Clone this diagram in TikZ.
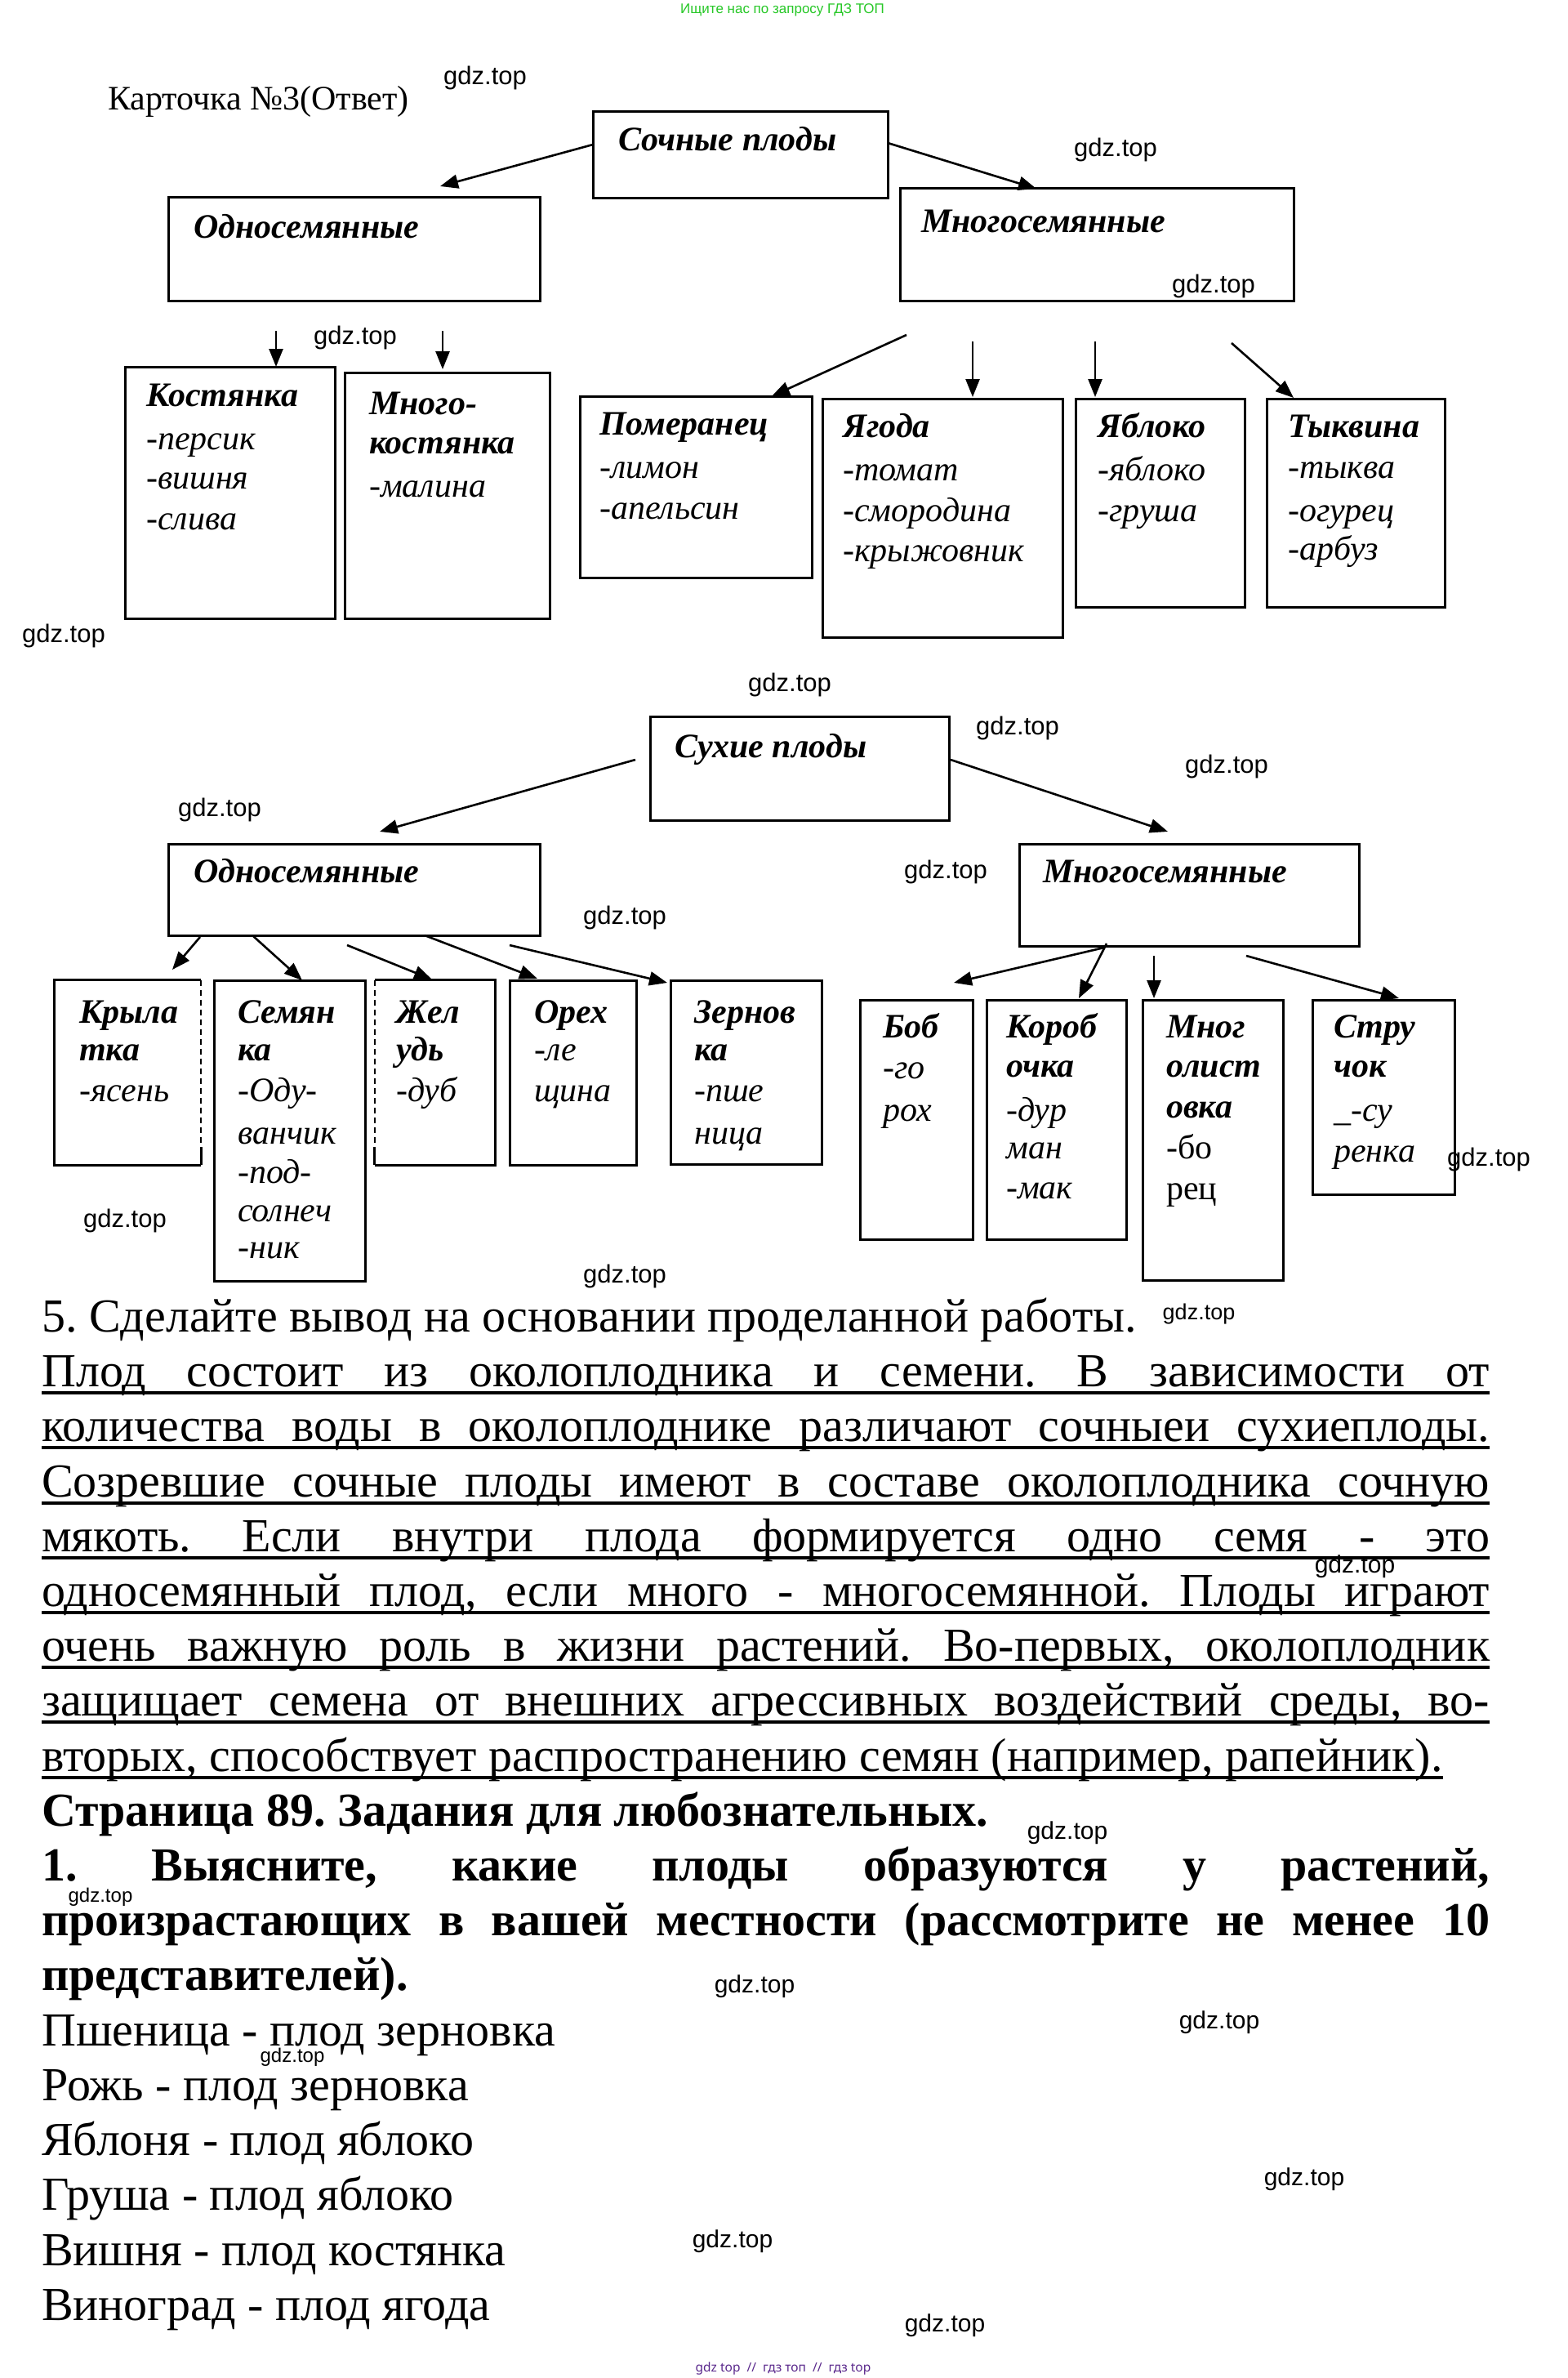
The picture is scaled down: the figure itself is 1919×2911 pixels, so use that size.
\documentclass[tikz,border=0pt]{standalone}
\usepackage{fontspec}
\setmainfont{Liberation Serif}
\newfontfamily\lsans{Liberation Sans}
\newfontfamily\nsans{Noto Sans}
\usetikzlibrary{arrows.meta,fit,calc}
\definecolor{grn}{RGB}{40,200,40}
\definecolor{purp}{RGB}{90,40,140}
\tikzset{
 bx/.style={draw, line width=3pt, inner sep=0pt},
 bxl/.style={line width=3pt},
 dsh/.style={line width=2.4pt, dash pattern=on 7pt off 5pt},
 arr/.style={line width=2.6pt, -{Triangle[length=22pt,width=17pt]}},
 hd/.style={anchor=base west, inner sep=0pt, font=\fontsize{42}{48}\selectfont\bfseries\itshape},
 it/.style={anchor=base west, inner sep=0pt, font=\fontsize{42}{48}\selectfont\itshape},
 up/.style={anchor=base west, inner sep=0pt, font=\fontsize{42}{48}\selectfont},
 tx/.style={anchor=base west, inner sep=0pt, font=\fontsize{58}{67}\selectfont\frenchspacing},
 txb/.style={anchor=base west, inner sep=0pt, font=\fontsize{58}{67}\selectfont\bfseries\frenchspacing},
 wm/.style={inner sep=0pt, text=black},
 ul/.style={line width=4pt},
}
\newcommand\jl[1]{\makebox[1773pt][s]{#1}}
\begin{document}
\frenchspacing
\begin{tikzpicture}[x=1pt,y=-1pt]
\useasboundingbox[fill=white] (0,0) rectangle (1919,2911);

% header / footer
\node[inner sep=0pt, text=grn, font=\lsans\fontsize{17}{20}\selectfont] (top) at (958,12) {Ищите нас по запросу ГДЗ ТОП};
\node[inner sep=0pt, text=purp, font=\nsans\fontsize{15.5}{18}\selectfont] (bot) at (959,2899) {gdz top\ \ //\ \ гдз топ\ \ //\ \ гдз top};

\node[anchor=base west, inner sep=0pt, font=\fontsize{42}{48}\selectfont] (title) at (132,135) {Карточка №3(Ответ)};

% ---------- top diagram boxes ----------
\node[bx, fit={(726,137) (1087,243)}] (sochnye) {};
\node[bx, fit={(206,242) (661,368)}] (odnoA) {};
\node[bx, fit={(1102,231) (1584,368)}] (mnogoA) {};
\node[bx, fit={(153,449) (410,757)}] (kost) {};
\node[bx, fit={(422,456) (673,757)}] (mkost) {};
\node[bx, fit={(710,485) (994,707)}] (pomer) {};
\node[bx, fit={(1007,488) (1301,780)}] (yagoda) {};
\node[bx, fit={(1317,488) (1524,743)}] (yabl) {};
\node[bx, fit={(1551,488) (1769,743)}] (tykv) {};

\node[hd] (t-soch) at (757,185) {Сочные плоды};
\node[hd] (t-odA) at (237,292) {Односемянные};
\node[hd] (t-mnA) at (1128,285) {Многосемянные};
\node[hd] (t-kost) at (179,497) {Костянка};
\node[it] (t-kost1) at (179,550) {-персик};
\node[it] (t-kost2) at (179,598) {-вишня};
\node[it] (t-kost3) at (179,648) {-слива};
\node[hd] (t-mk1) at (452,507) {Много-};
\node[hd] (t-mk2) at (452,555) {костянка};
\node[it] (t-mk3) at (452,608) {-малина};
\node[hd] (t-pom) at (734,532) {Померанец};
\node[it] (t-pom1) at (734,585) {-лимон};
\node[it] (t-pom2) at (734,635) {-апельсин};
\node[hd] (t-yag) at (1032,535) {Ягода};
\node[it] (t-yag1) at (1032,588) {-томат};
\node[it] (t-yag2) at (1032,638) {-смородина};
\node[it] (t-yag3) at (1032,687) {-крыжовник};
\node[hd] (t-yab) at (1344,535) {Яблоко};
\node[it] (t-yab1) at (1344,588) {-яблоко};
\node[it] (t-yab2) at (1344,638) {-груша};
\node[hd] (t-tyk) at (1577,535) {Тыквина};
\node[it] (t-tyk1) at (1577,585) {-тыква};
\node[it] (t-tyk2) at (1577,638) {-огурец};
\node[it] (t-tyk3) at (1577,685) {-арбуз};

% top arrows
\coordinate (a1s) at (726,177); \coordinate (a1e) at (539,228);
\coordinate (a2s) at (1087,175); \coordinate (a2e) at (1269,231);
\coordinate (a3s) at (338,405); \coordinate (a3e) at (338,449);
\coordinate (a4s) at (542,405); \coordinate (a4e) at (542,452);
\coordinate (a5s) at (1110,410); \coordinate (a5e) at (945,485);
\coordinate (a6s) at (1191,418); \coordinate (a6e) at (1191,486);
\coordinate (a7s) at (1341,418); \coordinate (a7e) at (1341,486);
\coordinate (a8s) at (1508,420); \coordinate (a8e) at (1584,487);
\foreach \k in {1,...,8} \draw[arr] (a\k s) -- (a\k e);

% ---------- second diagram boxes ----------
\node[bx, fit={(796,877) (1162,1004)}] (sukhie) {};
\node[bx, fit={(206,1033) (661,1145)}] (odnoB) {};
\node[bx, fit={(1248,1033) (1664,1158)}] (mnogoB) {};
\node[fit={(67,1200) (246,1426)}, inner sep=0pt] (kryl) {};
\draw[bxl] (kryl.north east) -- (kryl.north west) -- (kryl.south west) -- (kryl.south east);
\draw[dsh] (kryl.north east) -- ($(kryl.south east)+(0,-22)$);
\draw[bxl] ($(kryl.south east)+(0,-22)$) -- (kryl.south east);
\node[bx, fit={(262,1200) (447,1568)}] (semyan) {};
\node[fit={(459,1200) (606,1426)}, inner sep=0pt] (zhel) {};
\draw[bxl] (zhel.north west) -- (zhel.north east) -- (zhel.south east) -- (zhel.south west);
\draw[dsh] (zhel.north west) -- ($(zhel.south west)+(0,-22)$);
\draw[bxl] ($(zhel.south west)+(0,-22)$) -- (zhel.south west);
\node[bx, fit={(624,1200) (779,1426)}] (orekh) {};
\node[bx, fit={(821,1200) (1006,1425)}] (zern) {};
\node[bx, fit={(1053,1224) (1191,1517)}] (bob) {};
\node[bx, fit={(1208,1224) (1379,1517)}] (korob) {};
\node[bx, fit={(1399,1224) (1571,1567)}] (mnogol) {};
\node[bx, fit={(1607,1224) (1781,1462)}] (struch) {};

\node[hd] (t-sukh) at (826,927) {Сухие плоды};
\node[hd] (t-odB) at (237,1080) {Односемянные};
\node[hd] (t-mnB) at (1277,1080) {Многосемянные};
\node[hd] (t-kr1) at (97,1252) {Крыла};
\node[hd] (t-kr2) at (97,1298) {тка};
\node[it] (t-kr3) at (97,1348) {-ясень};
\node[hd] (t-se1) at (291,1252) {Семян};
\node[hd] (t-se2) at (291,1298) {ка};
\node[it] (t-se3) at (291,1348) {-Оду-};
\node[it] (t-se4) at (291,1400) {ванчик};
\node[it] (t-se5) at (291,1448) {-под-};
\node[it] (t-se6) at (291,1495) {солнеч};
\node[it] (t-se7) at (291,1540) {-ник};
\node[hd] (t-zh1) at (485,1252) {Жел};
\node[hd] (t-zh2) at (485,1298) {удь};
\node[it] (t-zh3) at (485,1348) {-дуб};
\node[hd] (t-or1) at (654,1252) {Орех};
\node[it] (t-or2) at (654,1298) {-ле};
\node[it] (t-or3) at (654,1348) {щина};
\node[hd] (t-ze1) at (850,1252) {Зернов};
\node[hd] (t-ze2) at (850,1298) {ка};
\node[it] (t-ze3) at (850,1348) {-пше};
\node[it] (t-ze4) at (850,1400) {ница};
\node[hd] (t-bo1) at (1081,1270) {Боб};
\node[it] (t-bo2) at (1081,1320) {-го};
\node[it] (t-bo3) at (1081,1372) {рох};
\node[hd] (t-ko1) at (1232,1270) {Короб};
\node[hd] (t-ko2) at (1232,1318) {очка};
\node[it] (t-ko3) at (1232,1372) {-дур};
\node[it] (t-ko4) at (1232,1418) {ман};
\node[it] (t-ko5) at (1232,1467) {-мак};
\node[hd] (t-ml1) at (1428,1270) {Мног};
\node[hd] (t-ml2) at (1428,1318) {олист};
\node[hd] (t-ml3) at (1428,1368) {овка};
\node[up] (t-ml4) at (1428,1418) {-бо};
\node[up] (t-ml5) at (1428,1468) {рец};
\node[hd] (t-st1) at (1633,1270) {Стру};
\node[hd] (t-st2) at (1633,1318) {чок};
\node[it] (t-st3) at (1633,1372) {\_-су};
\node[it] (t-st4) at (1633,1422) {ренка};

% second arrows
\coordinate (b1s) at (778,930); \coordinate (b1e) at (465,1018);
\coordinate (b2s) at (1164,930); \coordinate (b2e) at (1430,1018);
\coordinate (b3s) at (245,1147); \coordinate (b3e) at (211,1187);
\coordinate (b4s) at (309,1145); \coordinate (b4e) at (370,1200);
\coordinate (b5s) at (425,1157); \coordinate (b5e) at (529,1199);
\coordinate (b6s) at (520,1145); \coordinate (b6e) at (658,1198);
\coordinate (b7s) at (624,1157); \coordinate (b7e) at (817,1203);
\coordinate (b8s) at (1352,1160); \coordinate (b8e) at (1168,1203);
\coordinate (b9s) at (1355,1155); \coordinate (b9e) at (1321,1222);
\coordinate (b10s) at (1413,1170); \coordinate (b10e) at (1413,1222);
\coordinate (b11s) at (1526,1170); \coordinate (b11e) at (1713,1222);
\foreach \k in {1,...,11} \draw[arr] (b\k s) -- (b\k e);

% ---------- text ----------
\node[tx] (h5) at (51,1630) {5. Сделайте вывод на основании проделанной работы.};
\node[tx] (p1) at (51,1697) {\jl{Плод состоит из околоплодника и семени. В зависимости от}};
\node[tx] (p2) at (51,1764) {\jl{количества воды в околоплоднике различают сочныеи сухиеплоды.}};
\node[tx] (p3) at (51,1832) {\jl{Созревшие сочные плоды имеют в составе околоплодника сочную}};
\node[tx] (p4) at (51,1899) {\jl{мякоть. Если внутри плода формируется одно семя - это}};
\node[tx] (p5) at (51,1966) {\jl{односемянный плод, если много - многосемянной. Плоды играют}};
\node[tx] (p6) at (51,2033) {\jl{очень важную роль в жизни растений. Во-первых, околоплодник}};
\node[tx] (p7) at (51,2100) {\jl{защищает семена от внешних агрессивных воздействий среды, во-}};
\node[tx] (p8) at (51,2168) {вторых, способствует распространению семян (например, рапейник).};
\foreach \k in {1,...,8} \draw[ul] ($(p\k.base west)+(0,8)$) -- ($(p\k.base east)+(0,8)$);

\node[txb] (s89) at (51,2235) {Страница 89. Задания для любознательных.};
\node[txb] (q1) at (51,2302) {\jl{1. Выясните, какие плоды образуются у растений,}};
\node[txb] (q2) at (51,2369) {\jl{произрастающих в вашей местности (рассмотрите не менее 10}};
\node[txb] (q3) at (51,2436) {представителей).};

\node[tx] (l1) at (51,2504) {Пшеница - плод зерновка};
\node[tx] (l2) at (51,2571) {Рожь - плод зерновка};
\node[tx] (l3) at (51,2638) {Яблоня - плод яблоко};
\node[tx] (l4) at (51,2705) {Груша - плод яблоко};
\node[tx] (l5) at (51,2773) {Вишня - плод костянка};
\node[tx] (l6) at (51,2840) {Виноград - плод ягода};

% ---------- watermarks ----------
\foreach \x/\y/\s [count=\i] in {594/95/31, 1366/183/31, 1486/350/31, 435/413/31,
  78/778/31, 967/838/31, 1246/891/31, 1502/938/31, 269/991/31, 1158/1067/31,
  765/1123/31, 153/1494/31, 1823/1419/31, 765/1562/31, 1468/1609/27, 1659/1918/30,
  1307/2244/30, 123/2322/24, 924/2432/30, 1493/2476/30, 358/2518/24, 1597/2668/30,
  897/2744/30, 1157/2847/30}
  \node[wm, font={\lsans\fontsize{\s}{\s}\selectfont}] (w\i) at (\x,\y) {gdz.top};
\end{tikzpicture}
\end{document}
